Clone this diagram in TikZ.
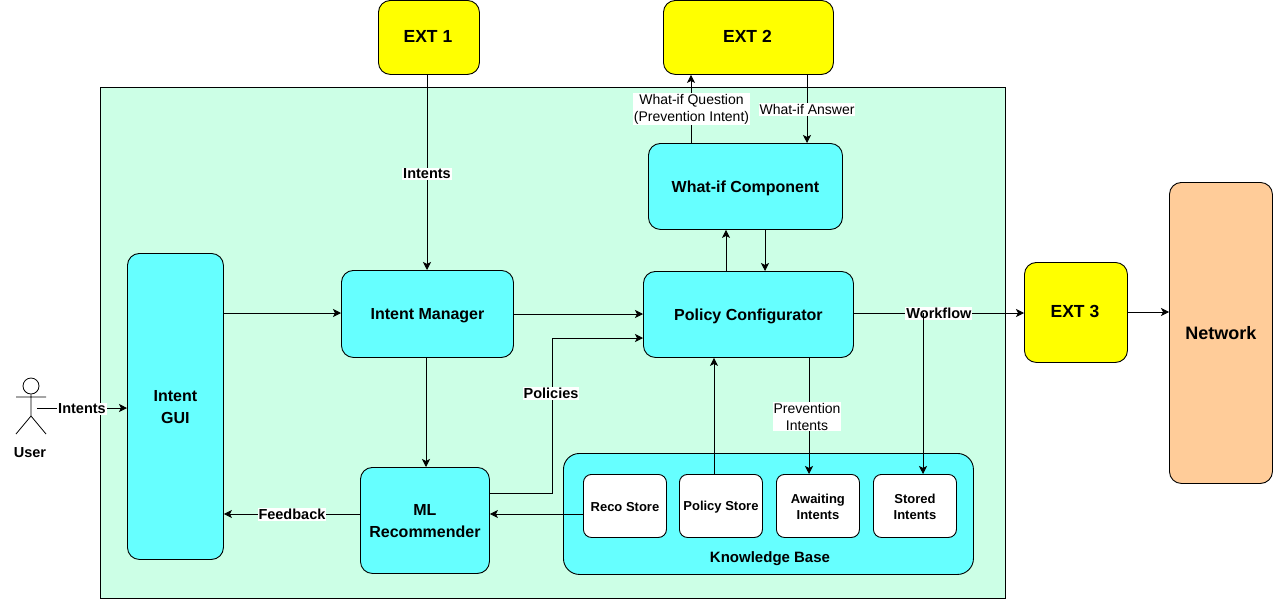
\documentclass[tikz,border=0pt]{standalone}
\usepackage{fontspec}
\setmainfont{Liberation Sans}
\usetikzlibrary{arrows.meta,calc}
\definecolor{boxcyan}{RGB}{102,255,255}
\definecolor{mint}{RGB}{204,255,230}
\definecolor{peach}{RGB}{255,204,153}
\definecolor{pureyellow}{RGB}{255,255,0}
\tikzset{
  x=1pt,y=-1pt,
  base/.style={draw=black,line width=0.9pt,rounded corners=#1,inner sep=0pt},
  base/.default=12pt,
  cyanbox/.style={base,fill=boxcyan},
  yellowbox/.style={base,fill=pureyellow},
  storebox/.style={base=8pt,fill=white},
  boxtext/.style={align=center,inner sep=0pt,yshift=-1pt,font=\bfseries\fontsize{#1}{22}\selectfont},
  onetext/.style={align=center,inner sep=0pt,yshift=-1.8pt,font=\bfseries\fontsize{16}{22}\selectfont},
  exttext/.style={align=center,inner sep=0pt,yshift=0.8pt,xshift=-1pt,font=\bfseries\fontsize{17.5}{22}\selectfont},
  storetext/.style={align=center,inner sep=0pt,yshift=-1pt,font=\bfseries\fontsize{13}{16}\selectfont},
  conn/.style={draw=black,line width=0.8pt,-{Stealth[length=8pt,width=8pt,inset=2pt]}},
  lab/.style={fill=white,inner sep=1pt,align=center,yshift=-0.5pt,font=\bfseries\fontsize{14.5}{17}\selectfont},
  labn/.style={fill=white,inner sep=1pt,align=center,yshift=-0.5pt,font=\fontsize{14}{17}\selectfont},
}
\newcommand{\bx}[8]{\node[#2,minimum width=#5pt-#3pt,minimum height=#6pt-#4pt,anchor=north west,label={[#8]center:{#7}}] (#1) at (#3,#4) {};}
\begin{document}
\begin{tikzpicture}
\useasboundingbox (0,0) rectangle (1273,611);
\fill[white] (0,0) rectangle (1273,611);
\node[draw=black,line width=0.9pt,fill=mint,minimum width=905pt,minimum height=511pt,anchor=north west,inner sep=0pt] (main) at (100,87) {};
\bx{ext1}{yellowbox}{378}{0}{479}{74}{EXT 1}{exttext}
\bx{ext2}{yellowbox}{663}{0}{833}{74}{EXT 2}{exttext}
\bx{ext3}{yellowbox}{1024}{262}{1127}{362}{EXT 3}{exttext}
\bx{net}{base,fill=peach}{1169}{182}{1272}{483}{Network}{boxtext=18,yshift=1pt}
\bx{wi}{cyanbox}{648}{143}{842}{229}{What-if Component}{onetext}
\bx{pc}{cyanbox}{643}{271}{853}{357}{Policy Configurator}{onetext}
\bx{im}{cyanbox}{341}{270}{513}{357}{Intent Manager}{onetext}
\bx{gui}{cyanbox}{127}{253}{223}{559}{Intent\\GUI}{boxtext=16}
\bx{ml}{cyanbox}{360}{467}{489}{573}{ML\\Recommender}{boxtext=16}
\bx{kb}{base=16pt,fill=boxcyan}{563}{453}{973}{574}{}{boxtext=16}
\node[font=\bfseries\fontsize{15}{17}\selectfont] (kbl) at (770,559) {Knowledge Base};
\bx{reco}{storebox}{583}{474}{666}{537}{Reco Store}{storetext}
\bx{ps}{storebox}{679}{474}{762}{537}{Policy Store}{storetext}
\bx{aw}{storebox}{776}{474}{859}{537}{Awaiting\\Intents}{storetext}
\bx{st}{storebox}{873}{474}{956}{537}{Stored\\Intents}{storetext}
% user
\node[circle,draw=black,line width=0.8pt,fill=white,minimum size=16pt,inner sep=0pt] (head) at (31,386) {};
\coordinate (hip) at (31,416);
\coordinate (uout) at (37,408);
\draw[line width=0.8pt] (head.south) -- (hip) (16,397) -- (46,397) (16,434) -- (hip) -- (46,434);
\node[font=\bfseries\fontsize{14.5}{17}\selectfont] (ulab) at (30,452.5) {User};
% connectors
\draw[conn] (uout) -- node[lab,pos=.5,yshift=-0.5pt] {Intents} (uout -| gui.west);
\draw[conn] (gui.east |- 0,313) -- (im.west |- 0,313);
\draw[conn] (im.east |- 0,314) -- (pc.west |- 0,314);
\draw[conn] (im.south -| 426,0) -- (ml.north -| 426,0);
\draw[conn] (ext1.south -| 427,0) -- node[lab,pos=.505] {Intents} (im.north -| 427,0);
\draw[conn] (ml.east |- 0,493) -- (552,493) -- (552,338) -- (pc.west |- 0,338);
\node[lab] (pol) at (551,393) {Policies};
\draw[conn] (ml.west |- 0,514) -- node[lab,pos=.5] {Feedback} (gui.east |- 0,514);
\draw[conn] (reco.west |- 0,514) -- (ml.east |- 0,514);
\draw[conn] (ps.north -| 714,0) -- (pc.south -| 714,0);
\draw[conn] (pc.south -| 809,0) -- (aw.north -| 809,0);
\node[labn] (prev) at (807,416) {Prevention\\Intents};
\draw[conn] (pc.east |- 0,313) -- node[lab,pos=.5] {Workflow} (ext3.west |- 0,313);
\draw[conn] (923,313) -- (st.north -| 923,0);
\draw[conn] (ext3.east |- 0,312) -- (net.west |- 0,312);
\draw[conn] (pc.north -| 726,0) -- (wi.south -| 726,0);
\draw[conn] (wi.south -| 765,0) -- (pc.north -| 765,0);
\draw[conn] (wi.north -| 691,0) -- (ext2.south -| 691,0);
\node[labn] (q) at (691.5,108.5) {What-if Question\\(Prevention Intent)};
\draw[conn] (ext2.south -| 807,0) -- node[labn,pos=.5] {What-if Answer} (wi.north -| 807,0);
\end{tikzpicture}
\end{document}
